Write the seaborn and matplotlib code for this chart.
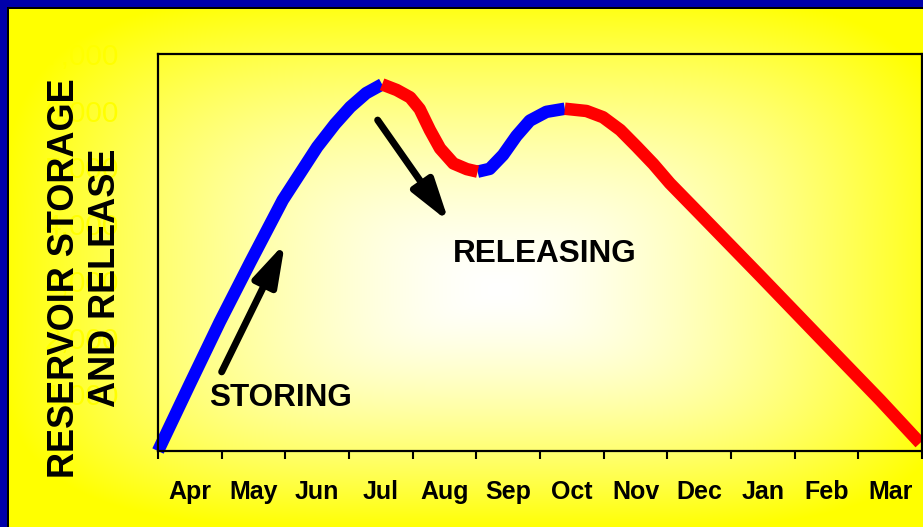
import numpy as np
import pandas as pd
import seaborn as sns
import matplotlib.pyplot as plt
from matplotlib.ticker import FixedLocator, NullFormatter

# Data
months = ['Apr', 'May', 'Jun', 'Jul', 'Aug', 'Sep', 'Oct', 'Nov', 'Dec', 'Jan', 'Feb', 'Mar']
storage_ticks = [1000, 2000, 3000, 4000, 5000, 6000, 7000]

# x is months since 1 Apr; the curve is split where storing/releasing flips
fill1_x = [0.0, 0.50, 0.97, 1.45, 1.96, 2.50, 2.78, 3.02, 3.27, 3.52]
fill1_y = [0, 1180, 2275, 3330, 4425, 5360, 5765, 6065, 6310, 6465]

release1_x = [3.52, 3.75, 3.96, 4.11, 4.27, 4.43, 4.64, 4.85, 5.02]
release1_y = [6465, 6365, 6235, 6030, 5660, 5335, 5070, 4970, 4925]

fill2_x = [5.02, 5.21, 5.42, 5.63, 5.84, 6.10, 6.39]
fill2_y = [4925, 4975, 5220, 5555, 5825, 5980, 6035]

release2_x = [6.39, 6.73, 6.99, 7.26, 7.52, 7.78, 8.04, 8.51, 9.46, 10.40, 11.34, 11.97]
release2_y = [6035, 5995, 5885, 5660, 5365, 5060, 4720, 4180, 3085, 1990, 900, 140]

segments = [('storing', fill1_x, fill1_y), ('releasing', release1_x, release1_y),
            ('storing', fill2_x, fill2_y), ('releasing', release2_x, release2_y)]

rows = []
for i, (phase, xs, ys) in enumerate(segments):
    for x, y in zip(xs, ys):
        rows.append({'month': x, 'storage': y, 'phase': phase, 'segment': i})
df = pd.DataFrame(rows)

plt.rcParams['font.family'] = ['Liberation Sans', 'DejaVu Sans']

W, H = 923, 527
fig = plt.figure(figsize=(W / 100, H / 100), dpi=100)

# background: white centre fading to yellow, blue/black frame on top & left
yy, xx = np.mgrid[0:H, 0:W]
cx, cy = 500, 290
rx = np.where(xx < cx, 500.0, 460.0)
ry = np.where(yy < cy, 300.0, 240.0)
r = (np.abs((xx - cx) / rx) ** 4 + np.abs((yy - cy) / ry) ** 4) ** 0.25
t = np.clip(1 - np.clip(r, 0, 1) ** 1.5, 0, 1)
bg = np.ones((H, W, 3))
bg[..., 2] = t
bg[:7, :, :] = [0, 0, 0.67]
bg[:, :7, :] = [0, 0, 0.67]
bg[7:9, 7:, :] = 0
bg[7:, 7:9, :] = 0
bax = fig.add_axes([0, 0, 1, 1], zorder=-1)
bax.imshow(bg, aspect='auto', interpolation='nearest')
bax.axis('off')

ax = fig.add_axes([158 / W, (H - 451) / H, (922 - 158) / W, (451 - 54) / H])
ax.set_facecolor('none')

sns.lineplot(data=df, x='month', y='storage', hue='phase', units='segment',
             estimator=None, sort=False, palette={'storing': '#0000ff', 'releasing': '#ff0000'},
             linewidth=9, solid_capstyle='butt', solid_joinstyle='round',
             legend=False, clip_on=False, ax=ax)

ax.set_xlim(0, 12)
ax.set_ylim(0, 7000)

for s in ax.spines.values():
    s.set_visible(True)
    s.set_color('black')
    s.set_linewidth(1.6)

ax.xaxis.set_major_locator(FixedLocator(range(13)))
ax.xaxis.set_major_formatter(NullFormatter())
ax.xaxis.set_minor_locator(FixedLocator([i + 0.5 for i in range(12)]))
ax.set_xticklabels(months, minor=True, fontsize=18, fontweight='bold')
ax.tick_params(axis='x', which='major', direction='out', length=6, width=1.5, color='black')
ax.tick_params(axis='x', which='minor', length=0, pad=21)

ax.set_yticks(storage_ticks)
ax.set_yticklabels([f'{v:,}' for v in storage_ticks], fontsize=21.5, color='#ffff00')
ax.tick_params(axis='y', length=0, pad=28)

ax.set_xlabel('')
ax.set_ylabel('RESERVOIR STORAGE\nAND RELEASE', fontsize=26, fontweight='bold',
              linespacing=1.25, va='center', ha='center')
ax.yaxis.set_label_coords((85 - 158) / 764, (451 - 278) / 397)

# arrows and phase labels
arrow_kw = dict(arrowstyle='-|>,head_length=1.4,head_width=0.42', color='black',
                lw=5, mutation_scale=18, shrinkA=0, shrinkB=0)
ax.annotate('', xy=(1.995, 3670), xytext=(1.0, 1395), arrowprops=arrow_kw)
ax.annotate('', xy=(4.57, 4040), xytext=(3.45, 5835), arrowprops=arrow_kw)
ax.text(0.80, 795, 'STORING', fontsize=22.7, fontweight='bold', va='baseline', ha='left')
ax.text(4.63, 3330, 'RELEASING', fontsize=22.7, fontweight='bold', va='baseline', ha='left')

fig.savefig('out.png', dpi=100)
